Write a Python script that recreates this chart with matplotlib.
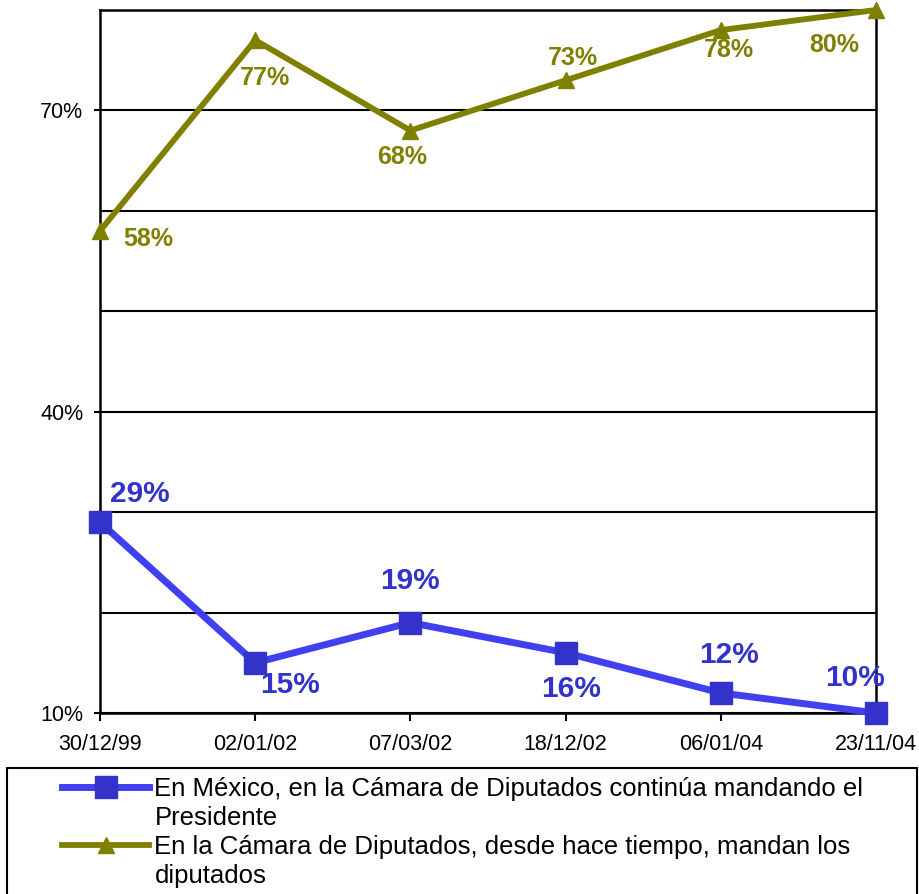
import numpy as np
import matplotlib.pyplot as plt
from matplotlib.patches import Rectangle
from matplotlib.ticker import FixedLocator, MultipleLocator, FuncFormatter

plt.rcParams['font.family'] = ['Liberation Sans', 'DejaVu Sans']

# data (percent)
dates = ['30/12/99', '02/01/02', '07/03/02', '18/12/02', '06/01/04', '23/11/04']
presidente = [29, 15, 19, 16, 12, 10]
diputados = [58, 77, 68, 73, 78, 80]
y_labels = [10, 40, 70]
label_presidente = ['En México, en la Cámara de Diputados continúa mandando el', 'Presidente']
label_diputados = ['En la Cámara de Diputados, desde hace tiempo, mandan los', 'diputados']

# offsets (points) of the value labels from each marker
off_pres = [(29, 20), (25, -16), (0, 30), (4, -26), (6, 27), (-15, 25)]
off_dip = [(35, -6), (7, -27), (-6, -19), (5, 16), (6, -14), (-30, -25)]

blue = '#4040F0'
blue_dark = '#3333CC'
olive = '#808000'

fig = plt.figure(figsize=(9.19, 8.94), dpi=100)
ax = fig.add_axes([100/919, 1 - 713/894, 776/919, 703/894])

x = np.arange(len(dates))
l1, = ax.plot(x, presidente, color=blue, lw=5, marker='s', ms=16.5,
              mfc=blue_dark, mec=blue_dark, zorder=3, clip_on=False)
l2, = ax.plot(x, diputados, color=olive, lw=4.2, marker='^', ms=11,
              mfc=olive, mec=olive, zorder=3, clip_on=False)

for xi, v, o in zip(x, presidente, off_pres):
    ax.annotate('%d%%' % v, (xi, v), xytext=o, textcoords='offset points',
                ha='center', va='center', fontsize=21.5, fontweight='bold',
                color=blue_dark, zorder=4)
for xi, v, o in zip(x, diputados, off_dip):
    ax.annotate('%d%%' % v, (xi, v), xytext=o, textcoords='offset points',
                ha='center', va='center', fontsize=18, fontweight='bold',
                color=olive, zorder=4)

ax.set_xlim(0, len(dates) - 1)
ax.set_ylim(10, 80)
ax.set_xticks(x)
ax.set_xticklabels(dates)
ax.yaxis.set_major_locator(FixedLocator(y_labels))
ax.yaxis.set_minor_locator(MultipleLocator(10))
ax.yaxis.set_major_formatter(FuncFormatter(lambda v, p: '%d%%' % v))
ax.grid(axis='y', which='both', color='black', lw=1.5)
ax.set_axisbelow(True)
ax.tick_params(axis='x', length=6, width=1.5, pad=9, labelsize=15.5)
ax.tick_params(axis='y', which='major', length=4, width=1.5, pad=8, labelsize=15.5)
ax.tick_params(axis='y', which='minor', length=0)
for s in ax.spines.values():
    s.set_linewidth(1.8)
    s.set_color('black')

# legend box
fig.patches.append(Rectangle((7/919, -0.02), 910/919, (894 - 768)/894 + 0.02,
                             transform=fig.transFigure, fill=False,
                             ec='black', lw=1.5))
blank, = ax.plot([], [], color='none')
leg = fig.legend([l1, blank, l2, blank],
                 [label_presidente[0], label_presidente[1],
                  label_diputados[0], label_diputados[1]],
                 loc='upper left', bbox_to_anchor=(62/919, 1 - 777/894),
                 frameon=False, fontsize=18.5, numpoints=1, handlelength=3.4,
                 handletextpad=0.2, labelspacing=0.2, borderpad=0,
                 borderaxespad=0)

fig.savefig('out.png', dpi=100)
